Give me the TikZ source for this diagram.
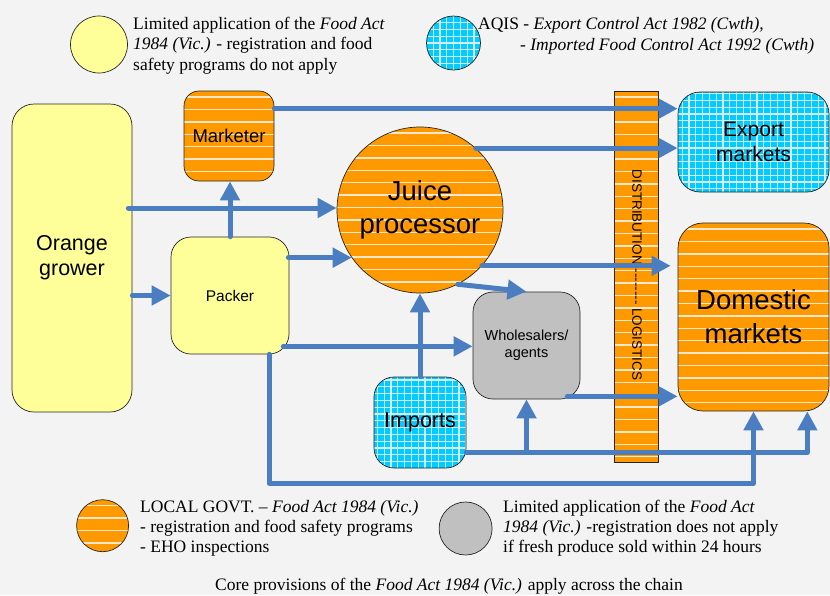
\documentclass[tikz,border=0pt]{standalone}
\usepackage{fontspec}
\setmainfont{Liberation Serif}
\setsansfont{Liberation Sans}
\usetikzlibrary{arrows.meta,calc}

\definecolor{paper}{RGB}{243,243,243}
\definecolor{flowblue}{RGB}{74,126,193}
\definecolor{juiceorange}{RGB}{255,153,0}
\definecolor{stripecream}{RGB}{250,232,205}
\definecolor{aqiscyan}{RGB}{0,204,255}
\definecolor{gridpale}{RGB}{215,235,245}
\definecolor{palelemon}{RGB}{255,255,153}
\definecolor{softgrey}{RGB}{192,192,192}

\newcommand{\fsz}[2]{\fontsize{#1}{#2}\selectfont}

\tikzset{
  box/.style={draw=black!85, line width=0.7pt, inner sep=0pt, align=center},
  lemon/.style={box, fill=palelemon},
  grey/.style={box, fill=softgrey},
  striped/.style={box, fill=juiceorange, path picture={
     \foreach \k in {0,...,30}
       \draw[stripecream, line width=1.4pt]
         ([yshift={-6pt-12.4pt*\k}]path picture bounding box.north west) -- ++(600pt,0pt);}},
  gridded/.style={box, fill=aqiscyan, path picture={
     \draw[gridpale, line width=1.2pt]
       (path picture bounding box.south west) grid[step=6.8pt] (path picture bounding box.north east);}},
  flow/.style={draw=flowblue, line width=5pt, line cap=round, line join=round,
     -{Triangle[length=19pt,width=19pt]}},
  % anchored at the baseline of the last line
  legendtext/.style={font=\fsz{17.5}{20.5}, align=left, inner sep=0pt, anchor=base west},
}

\begin{document}
\begin{tikzpicture}[x=1pt,y=-1pt]
\useasboundingbox (0,0) rectangle (830,595);
\fill[paper] (0,0) rectangle (830,595);

% legend keys
\node[lemon, circle, minimum size=57pt] (keylemon) at (99,44.5) {};
\node[gridded, circle, minimum size=54pt] (keycyan) at (453.5,43) {};
\node[striped, circle, minimum size=52pt] (keyorange) at (102.6,525.7) {};
\node[grey, circle, minimum size=53pt] (keygrey) at (465.6,528.5) {};

\node[legendtext] (keylemontext) at (133,70)
  {Limited application of the \textit{Food Act}\\
   \textit{1984 (Vic.)} - registration and food\\
   safety programs do not apply};
\node[legendtext] (keycyantext) at (478,50)
  {AQIS - \textit{Export Control Act 1982 (Cwth),}\\
   \hspace*{42pt}\textit{- Imported Food Control Act 1992 (Cwth)}};
\node[legendtext, font=\fsz{17.5}{20}] (keyorangetext) at (140,552)
  {LOCAL GOVT. -- \textit{Food Act 1984 (Vic.)}\\
   - registration and food safety programs\\
   - EHO inspections};
\node[legendtext, font=\fsz{17.5}{20}] (keygreytext) at (503,552)
  {Limited application of the \textit{Food Act}\\
   \textit{1984 (Vic.)} -registration does not apply\\
   if fresh produce sold within 24 hours};
\node[inner sep=0pt, anchor=base, font=\fsz{17.5}{20}] (caption) at (449,590)
  {Core provisions of the \textit{Food Act 1984 (Vic.)} apply across the chain};

% supply chain
\node[lemon, rounded corners=22pt, minimum width=120pt, minimum height=308pt,
      font=\sffamily\fsz{21.5}{25}] (grower) at (72,258) {Orange\\grower};
\node[striped, rounded corners=15pt, minimum width=90pt, minimum height=90pt,
      font=\sffamily\fsz{18.5}{22}] (marketer) at (229,136) {Marketer};
\node[lemon, rounded corners=20pt, minimum width=118pt, minimum height=117pt,
      font=\sffamily\fsz{15.5}{18}] (packer) at (230,295.5) {Packer};
\node[striped, circle, minimum size=166pt,
      font=\sffamily\fsz{27.5}{33}] (juice) at (420,210) {Juice\\processor};
\node[grey, rounded corners=20pt, minimum width=107pt, minimum height=107pt,
      font=\sffamily\fsz{14.5}{17}] (wholesaler) at (526.5,345.5) {Wholesalers/\\agents};
\node[gridded, rounded corners=20pt, minimum width=92pt, minimum height=91pt,
      font=\sffamily\fsz{21.5}{25}] (imports) at (420,422.5) {Imports};
\node[gridded, rounded corners=22pt, minimum width=151pt, minimum height=100pt,
      font=\sffamily\fsz{21}{25}] (export) at (753.5,142) {Export\\markets};
\node[striped, rounded corners=25pt, minimum width=151pt, minimum height=188pt,
      font=\sffamily\fsz{27.5}{34}] (domestic) at (753.5,317) {Domestic\\markets};
\node[striped, minimum width=44pt, minimum height=371pt] (bar) at (636,276.5) {};
\node[inner sep=0pt, rotate=-90, font=\sffamily\fsz{13.5}{16}] (barlabel) at (637,275)
  {DISTRIBUTION -{}-{}-{}-{}-{}-{}-{}- LOGISTICS};

% flows
\coordinate (mk1) at ($(marketer.north east)+(0,18)$);
\draw[flow] (mk1) -- (mk1 -| export.west);

\coordinate (gr1) at ($(grower.east)+(-4,-50)$);
\draw[flow] (gr1) -- (gr1 -| juice.west);

\draw[flow] (packer.north) -- (packer.north |- marketer.south);

\coordinate (pk1) at ($(packer.north east)+(-1,21)$);
\draw[flow] (pk1) -- (pk1 -| juice.215);

\draw[flow] (packer.west -| grower.east) -- (packer.west);

\draw[flow] (juice.48) -- (juice.48 -| export.west);
\draw[flow, shorten >=7pt] (juice.318) -- (juice.318 -| domestic.west);
\draw[flow] (juice.297) -- (wholesaler.north);

\coordinate (pk2) at ($(packer.south east)+(-6,-8)$);
\draw[flow] (pk2) -- (pk2 -| wholesaler.west);

\draw[flow] (imports.north) -- (juice.south);

\coordinate (wh1) at ($(wholesaler.south east)+(-13,-3)$);
\draw[flow] (wh1) -- (wh1 -| domestic.west);

\coordinate (im1) at ($(imports.south east)+(0,-16)$);
\coordinate (dm1) at ($(domestic.south east)+(-22,0)$);
\draw[flow] (im1) -| (dm1);
\draw[flow] (im1 -| wholesaler.south) -- (wholesaler.south);

\coordinate (pk3) at ($(packer.south)+(39,0)$);
\coordinate (chainfoot) at ($(domestic.south)+(0,72)$);
\draw[flow] (pk3) |- (chainfoot) -- (domestic.south);
\end{tikzpicture}
\end{document}
